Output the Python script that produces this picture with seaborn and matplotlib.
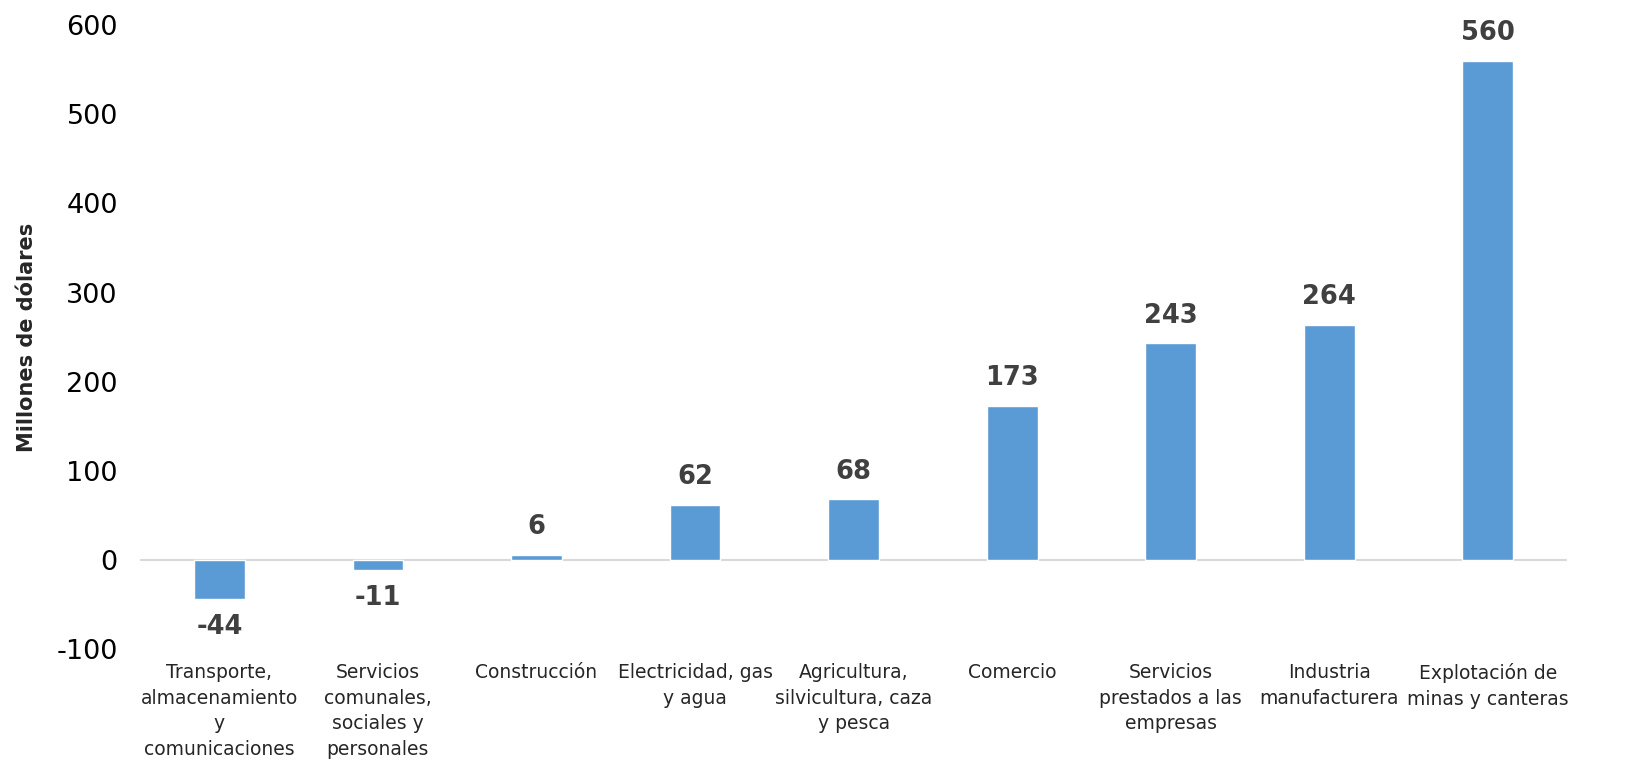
import numpy as np
import pandas as pd
import matplotlib
matplotlib.use('Agg')
import matplotlib.pyplot as plt
import seaborn as sns

# Datos del gráfico
sectores = ['Transporte,\nalmacenamiento\ny\ncomunicaciones',
            'Servicios\ncomunales,\nsociales y\npersonales',
            'Construcción',
            'Electricidad, gas\ny agua',
            'Agricultura,\nsilvicultura, caza\ny pesca',
            'Comercio',
            'Servicios\nprestados a las\nempresas',
            'Industria\nmanufacturera',
            'Explotación de\nminas y canteras']
valores = [-44, -11, 6, 62, 68, 173, 243, 264, 560]
y_ticks = [-100, 0, 100, 200, 300, 400, 500, 600]

df = pd.DataFrame({'Sector': sectores, 'Valor': valores})

sns.set_style('white')
plt.rcParams['font.family'] = ['DejaVu Sans']

fig = plt.figure(figsize=(16.29, 7.83), dpi=100)
ax = fig.add_axes([0.086, 0.171, 0.876, 0.797])

sns.barplot(data=df, x='Sector', y='Valor', color='#5B9BD5', width=0.32,
            saturation=1, ax=ax)

ax.set_ylim(-100, 600)
ax.set_yticks(y_ticks)
ax.set_yticklabels([str(t) for t in y_ticks], fontsize=19.5, color='#000000')
ax.tick_params(axis='y', length=0, pad=16)
ax.tick_params(axis='x', length=0, pad=10)
for lbl in ax.get_xticklabels():
    lbl.set_fontsize(13.5)
    lbl.set_linespacing(1.45)
ax.set_xlabel('')
ax.set_ylabel('Millones de dólares', fontsize=15, fontweight='bold', labelpad=14)

for s in ax.spines.values():
    s.set_visible(False)
ax.axhline(0, color='#D9D9D9', linewidth=1.5, zorder=0)

# Etiquetas de datos
for i, v in enumerate(valores):
    off = 20 if v >= 0 else -20
    ax.annotate(str(v), (i, v), xytext=(0, off), textcoords='offset points',
                ha='center', va='center', fontsize=18.5, fontweight='bold',
                color='#404040', clip_on=False)

plt.savefig('out.png', dpi=100)
